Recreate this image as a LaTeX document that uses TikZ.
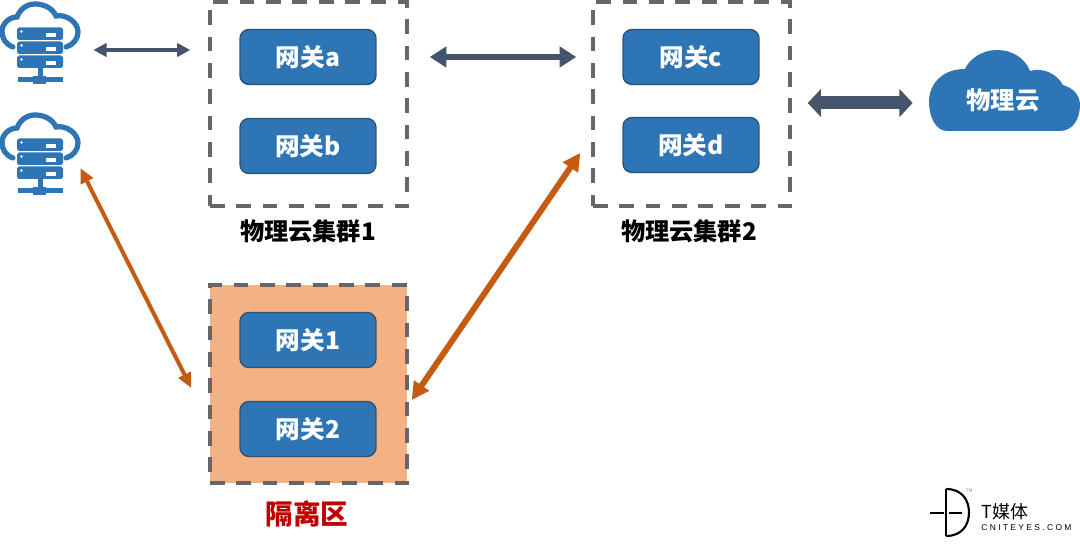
\documentclass[tikz,border=0pt]{standalone}
\usepackage{fontspec}
\setmainfont{Noto Sans CJK SC}
\newfontfamily\logofont[LetterSpace=28]{Liberation Sans}
\usepackage{tikz}
\usetikzlibrary{arrows.meta}

\definecolor{gateblue}{HTML}{2E75B6}
\definecolor{gateline}{HTML}{2F5373}
\definecolor{slate}{HTML}{44546A}
\definecolor{rust}{HTML}{C55A11}
\definecolor{zonefill}{HTML}{F4B183}
\definecolor{dashgray}{HTML}{666666}
\definecolor{zonered}{HTML}{C00000}

\tikzset{
    clusterbox/.style={draw=dashgray,line width=2pt,dash pattern=on 8.4pt off 6.6pt,
        minimum width=3.94cm,minimum height=4.08cm,inner sep=0pt},
    slatethin/.style={draw=slate,line width=2.2pt,{Triangle[length=7.5pt,width=7.5pt]}-{Triangle[length=7.5pt,width=7.5pt]}},
    slatemid/.style={draw=slate,line width=3.6pt,{Triangle[length=9.5pt,width=11.5pt]}-{Triangle[length=9.5pt,width=11.5pt]}},
    slatewide/.style={draw=slate,line width=7.4pt,{Triangle[length=7.5pt,width=15.5pt]}-{Triangle[length=7.5pt,width=15.5pt]}},
    rustthin/.style={draw=rust,line width=2.3pt,{Triangle[length=8.5pt,width=7.5pt]}-{Triangle[length=8.5pt,width=7.5pt]}},
    rustmid/.style={draw=rust,line width=3.4pt,{Triangle[length=10pt,width=10pt]}-{Triangle[length=10pt,width=10pt]}},
    pics/srvicon/.style={code={
        \draw[gateblue,line width=3pt,line cap=round]
            (13,47) .. controls (5,44) and (2,38) .. (2,31)
            .. controls (2,24) and (9,17) .. (17,17)
            .. controls (20,9) and (27,4) .. (35,4)
            .. controls (45,4) and (53,9) .. (56,16)
            .. controls (66,14) and (78,22) .. (78,32)
            .. controls (78,39) and (73,45) .. (66,47);
        \foreach \rowtop in {27.5,41.5,55.5} {
            \fill[gateblue,rounded corners=1pt] (17,\rowtop) rectangle (63,\rowtop+12.5);
            \fill[white] (21.5,\rowtop+4) circle (1.3);
            \fill[white] (46,\rowtop+6) rectangle (56,\rowtop+9.5);
        }
        \fill[gateblue] (37.5,68) rectangle (42.5,78);
        \fill[gateblue] (17.5,77.5) rectangle (62.5,82);
        \fill[gateblue] (33,76) rectangle (46,84);
    }}
}

\begin{document}
\begin{tikzpicture}[x=0.02cm,y=-0.02cm]
    \useasboundingbox (0,0) rectangle (1080,547);

    % server icons
    \pic at (0,0) {srvicon};
    \pic at (0,111) {srvicon};
    \node[minimum width=1.6cm,minimum height=1.64cm] (srvA) at (40,43) {};
    \node[minimum width=1.6cm,minimum height=1.64cm] (srvB) at (40,154) {};

    % dashed groups
    \node[clusterbox] (clusterA) at (308.5,104) {};
    \node[clusterbox] (clusterB) at (691.5,104) {};
    \node[clusterbox,fill=zonefill,minimum height=3.96cm] (zone) at (308.5,384) {};

    % gateways
    \begin{scope}[every node/.style={draw=gateline,fill=gateblue,text=white,thick,rounded corners=0.18cm,
            minimum width=2.72cm,minimum height=1.1cm,inner sep=0pt,font=\fontsize{14pt}{16pt}\selectfont\bfseries}]
    \node (gateA) at (308,57) {网关a};
    \node (gateB) at (308,146) {网关b};
    \node (gateC) at (691,57) {网关c};
    \node (gateD) at (691,145) {网关d};
    \node (gateE) at (308,340) {网关1};
    \node (gateF) at (308,429) {网关2};
    \end{scope}

    % physical cloud
    \fill[gateblue] (947,131) .. controls (936,131) and (929,117) .. (929,102)
        .. controls (929,84) and (942,69) .. (965,69)
        .. controls (970,58) and (983,50) .. (997,50)
        .. controls (1012,50) and (1025,58) .. (1030,71)
        .. controls (1043,67) and (1057,74) .. (1063,85)
        .. controls (1073,88) and (1080,95) .. (1080,105)
        .. controls (1080,120) and (1072,131) .. (1060,131) -- cycle;
    \node[text=white,minimum width=3cm,inner sep=0pt,font=\fontsize{13.9pt}{16pt}\selectfont\bfseries] (cloud) at (1003,100) {物理云};

    % captions
    \node[font=\fontsize{13.8pt}{16pt}\selectfont\bfseries] (capA) at (308,231) {物理云集群1};
    \node[font=\fontsize{13.8pt}{16pt}\selectfont\bfseries] (capB) at (689,231) {物理云集群2};
    \node[text=zonered,font=\fontsize{15.7pt}{18pt}\selectfont\bfseries] (capZ) at (307,514) {隔离区};

    % links
    \draw[slatethin] ([shift={(13,7)}]srvA.east) -- ([shift={(-18,-54)}]clusterA.west);
    \draw[slatemid] ([shift={(21,-47)}]clusterA.east) -- ([shift={(-15,-47)}]clusterB.west);
    \draw[slatewide] ([shift={(16,-1)}]clusterB.east) -- ([shift={(-15,3)}]cloud.west);
    \draw[rustthin] ([shift={(0,14)}]srvB.east) -- ([shift={(-17,4)}]zone.west);
    \draw[rustmid] ([shift={(3,16)}]zone.east) -- ([shift={(-11,49)}]clusterB.west);

    % logo
    \draw[black,line width=1.2pt] (946,489) -- (946,536);
    \draw[black,line width=1.2pt] (946,489) .. controls (962,489) and (969,500) .. (969,512.5)
        .. controls (969,525) and (962,536) .. (946,536);
    \draw[black,line width=1.2pt] (930,513) -- (943.5,513) (948.5,513) -- (962,513);
    \node[text=gray,inner sep=0pt,font=\fontsize{2.6pt}{3pt}\selectfont] (logoTm) at (969,491) {TM};
    \node[anchor=west,inner sep=0pt,font=\fontsize{10.2pt}{12pt}\selectfont] (logoCn) at (981,512) {T媒体};
    \node[anchor=west,inner sep=0pt,font=\fontsize{4.8pt}{6pt}\selectfont\logofont] (logoEn) at (981,528) {CNITEYES.COM};
\end{tikzpicture}
\end{document}
